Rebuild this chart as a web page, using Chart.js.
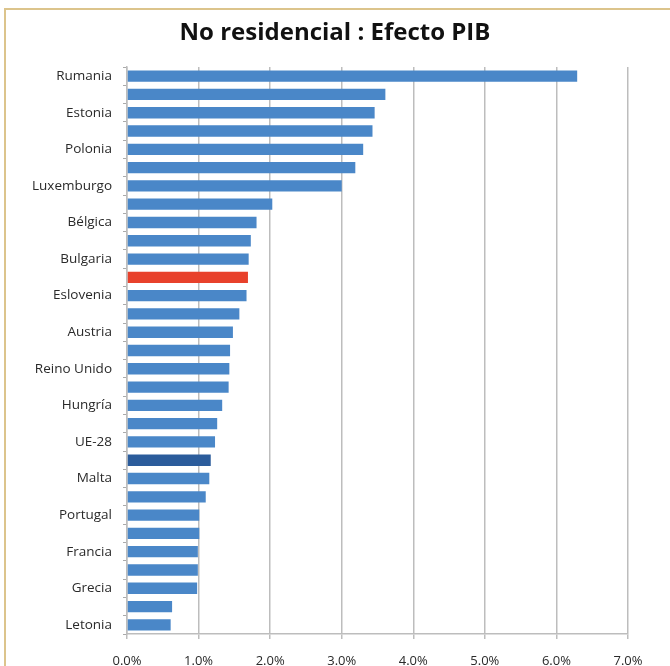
<!DOCTYPE html>
<html>
<head>
<meta charset="utf-8">
<script src="https://cdn.jsdelivr.net/npm/chart.js@4"></script>
<style>
  body { margin: 0; background: #fff; }
  #wrap { position: relative; width: 670px; height: 666px; }
  #frame {
    position: absolute; left: 4px; top: 8px; right: 0; bottom: 0;
    border-top: 2px solid #dcc48c; border-left: 2px solid #dcc48c;
  }
  #chart { position: absolute; left: 0; top: 0; }
</style>
</head>
<body>
<div id="wrap">
  <div id="frame"></div>
  <canvas id="chart" width="670" height="666"></canvas>
</div>
<script>
// only every other country is named on the axis
const countries = [
  "Rumania", "", "Estonia", "", "Polonia", "", "Luxemburgo", "",
  "Bélgica", "", "Bulgaria", "", "Eslovenia", "", "Austria", "",
  "Reino Unido", "", "Hungría", "", "UE-28", "", "Malta", "",
  "Portugal", "", "Francia", "", "Grecia", "", "Letonia"
];

// efecto PIB, %
const efecto = [
  6.29, 3.61, 3.46, 3.43, 3.30, 3.19, 3.00, 2.03,
  1.81, 1.73, 1.70, 1.69, 1.67, 1.57, 1.48, 1.44,
  1.43, 1.42, 1.33, 1.26, 1.23, 1.17, 1.15, 1.10,
  1.01, 1.01, 0.99, 0.99, 0.98, 0.63, 0.61
];

const xTicks = [0, 1, 2, 3, 4, 5, 6, 7];
const chartTitle = "No residencial : Efecto PIB";

const redBar = 11;
const darkBar = 21;

const barColors = efecto.map((v, i) =>
  i === redBar ? "#e8412b" : i === darkBar ? "#2b5c9b" : "#4a87c8"
);

const font = "'Open Sans', sans-serif";

// title centred on the whole canvas, not on the plot area
const centredTitle = {
  id: "centredTitle",
  afterDraw(chart) {
    const ctx = chart.ctx;
    ctx.save();
    ctx.font = "bold 24px " + font;
    ctx.fillStyle = "#111";
    ctx.textAlign = "center";
    ctx.textBaseline = "middle";
    ctx.fillText(chartTitle, chart.width / 2, 33);
    ctx.restore();
  }
};

new Chart(document.getElementById("chart"), {
  type: "bar",
  data: {
    labels: countries,
    datasets: [{
      data: efecto,
      backgroundColor: barColors,
      borderWidth: 0,
      barPercentage: 0.62,
      categoryPercentage: 1
    }]
  },
  options: {
    indexAxis: "y",
    responsive: false,
    animation: false,
    layout: { padding: { left: 0, right: 42, top: 67, bottom: 0 } },
    plugins: {
      legend: { display: false },
      tooltip: { enabled: false },
      title: { display: false }
    },
    scales: {
      x: {
        min: 0,
        max: 7,
        afterBuildTicks: (axis) => { axis.ticks = xTicks.map(v => ({ value: v })); },
        afterFit: (axis) => { axis.height = 32; },
        ticks: {
          color: "#2a2a2a",
          font: { family: font, size: 13 },
          padding: 14,
          callback: (v) => Number(v).toFixed(1) + "%"
        },
        grid: { color: "#bdbdbd", lineWidth: 1.5, tickLength: 5 },
        border: { color: "#bdbdbd", width: 1.5 }
      },
      y: {
        afterFit: (axis) => { axis.width = 127; },
        ticks: {
          autoSkip: false,
          color: "#2a2a2a",
          font: { family: font, size: 13.5 },
          padding: 11
        },
        grid: { offset: true, drawOnChartArea: false, color: "#aaa", tickLength: 4 },
        border: { color: "#bdbdbd", width: 1.5 }
      }
    }
  },
  plugins: [centredTitle]
});
</script>
</body>
</html>
